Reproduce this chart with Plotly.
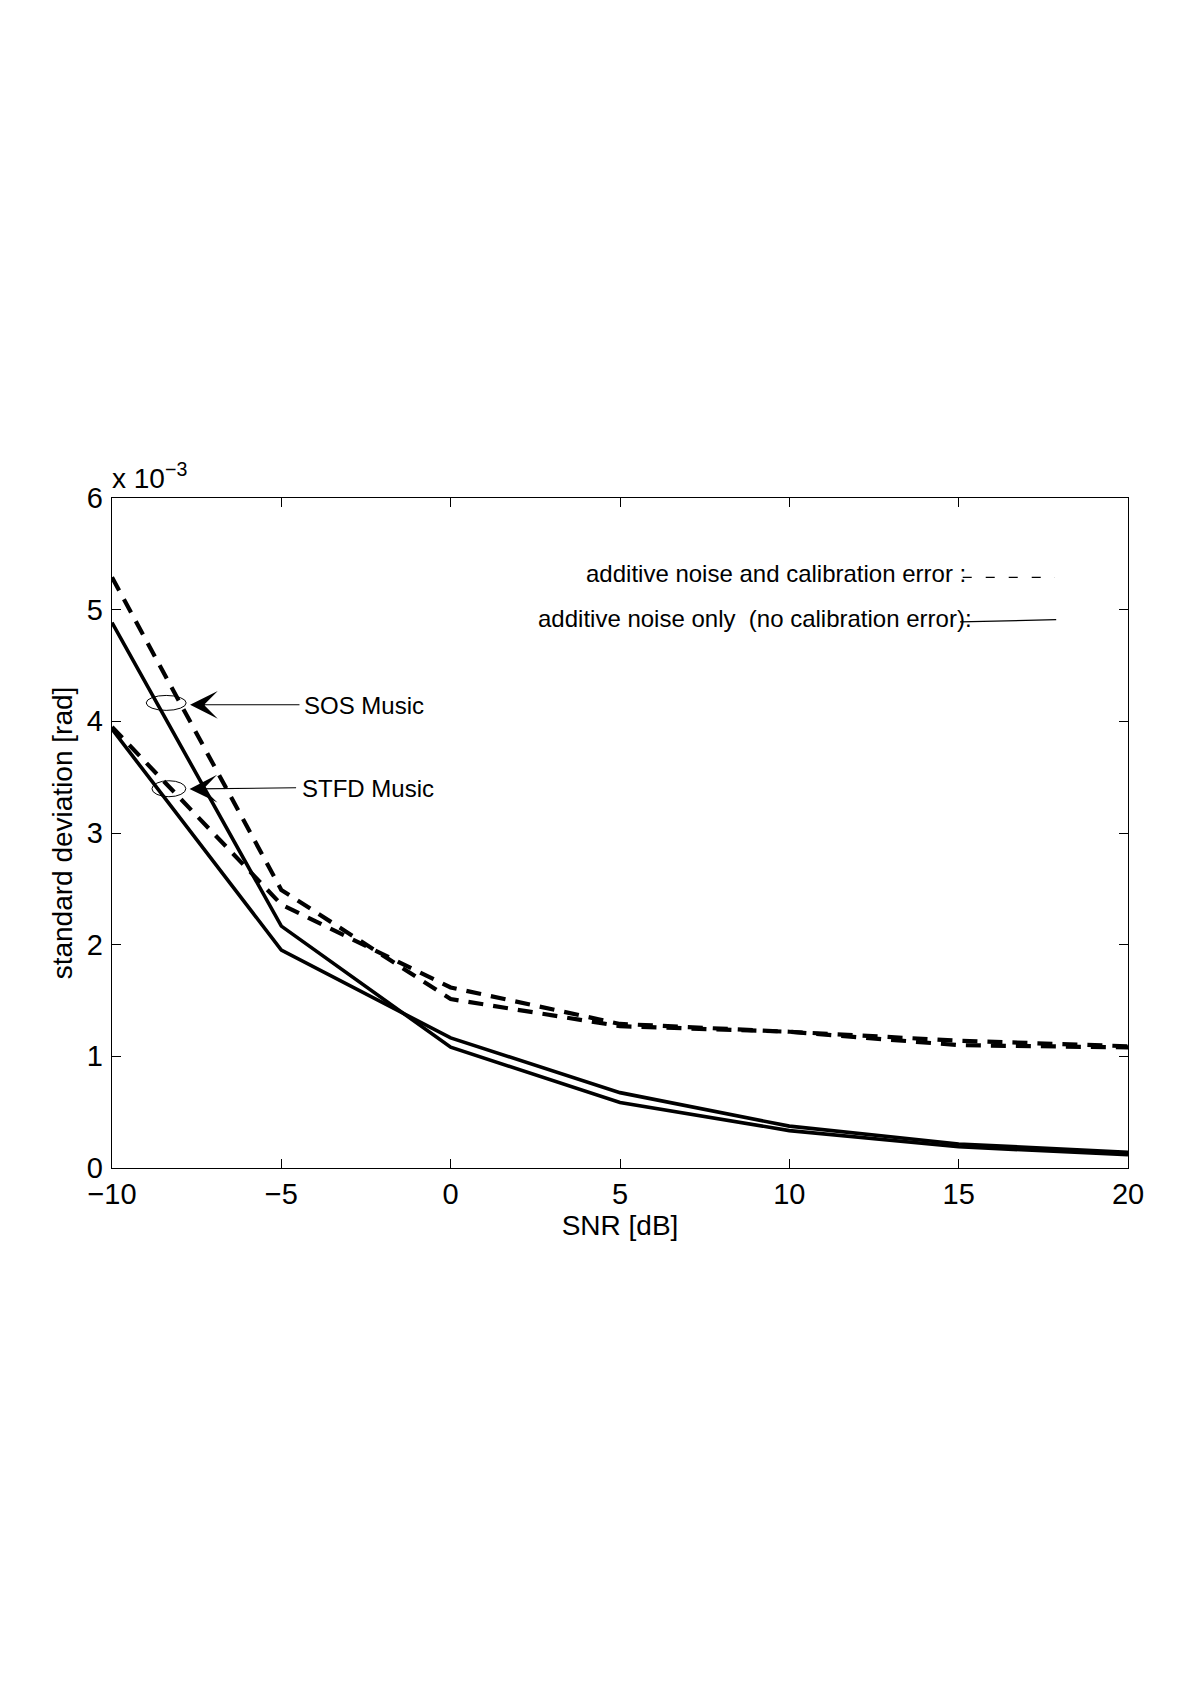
import plotly.graph_objects as go

# ---- data ----
snr_db = [-10, -5, 0, 5, 10, 15, 20]
sos_noise_only = [4.885, 2.166, 1.082, 0.587, 0.335, 0.19, 0.118]
stfd_noise_only = [3.93, 1.952, 1.165, 0.675, 0.375, 0.215, 0.14]
sos_calib_err = [5.29, 2.49, 1.513, 1.27, 1.22, 1.10, 1.08]
stfd_calib_err = [3.95, 2.36, 1.617, 1.29, 1.22, 1.14, 1.09]

x_ticks = [-10, -5, 0, 5, 10, 15, 20]
y_ticks = [0, 1, 2, 3, 4, 5, 6]

FONT = "Liberation Sans, Arial, Helvetica, sans-serif"
BLACK = "black"

fig = go.Figure()

solid = dict(color=BLACK, width=3.6)
dashed = dict(color=BLACK, width=4.2, dash="15px,10px")

fig.add_trace(go.Scatter(x=snr_db, y=sos_noise_only, mode="lines", line=solid,
                         name="SOS Music, additive noise only", showlegend=False))
fig.add_trace(go.Scatter(x=snr_db, y=stfd_noise_only, mode="lines", line=solid,
                         name="STFD Music, additive noise only", showlegend=False))
fig.add_trace(go.Scatter(x=snr_db, y=sos_calib_err, mode="lines", line=dashed,
                         name="SOS Music, noise and calibration error", showlegend=False))
fig.add_trace(go.Scatter(x=snr_db, y=stfd_calib_err, mode="lines", line=dashed,
                         name="STFD Music, noise and calibration error", showlegend=False))

# ellipses marking the curve groups
fig.add_shape(type="circle", xref="x", yref="y", x0=-8.99, x1=-7.81, y0=4.098, y1=4.232,
              line=dict(color=BLACK, width=1))
fig.add_shape(type="circle", xref="x", yref="y", x0=-8.82, x1=-7.82, y0=3.325, y1=3.468,
              line=dict(color=BLACK, width=1))

# legend samples
fig.add_shape(type="line", xref="x", yref="y", x0=15.12, x1=17.84, y0=5.29, y1=5.29,
              line=dict(color=BLACK, width=1.2, dash="9px,14px"))
fig.add_shape(type="line", xref="x", yref="y", x0=15.04, x1=17.88, y0=4.89, y1=4.91,
              line=dict(color=BLACK, width=1.2))

ann = []
# arrows
ann.append(dict(x=-7.695, y=4.148, ax=-4.42, ay=4.148, xref="x", yref="y", axref="x", ayref="y",
                text="", showarrow=True, arrowhead=3, arrowsize=4.2, arrowwidth=1.1, arrowcolor=BLACK))
ann.append(dict(x=-7.71, y=3.394, ax=-4.52, ay=3.406, xref="x", yref="y", axref="x", ayref="y",
                text="", showarrow=True, arrowhead=3, arrowsize=4.2, arrowwidth=1.1, arrowcolor=BLACK))
ann.append(dict(x=-4.40, y=4.145, xref="x", yref="y", text="SOS Music", showarrow=False,
                xanchor="left", yanchor="middle", font=dict(family=FONT, size=24, color=BLACK)))
ann.append(dict(x=-4.46, y=3.397, xref="x", yref="y", text="STFD Music", showarrow=False,
                xanchor="left", yanchor="middle", font=dict(family=FONT, size=24, color=BLACK)))
# legend texts
ann.append(dict(x=3.94, y=5.322, xref="x", yref="y", text="additive noise and calibration error :",
                showarrow=False, xanchor="left", yanchor="middle",
                font=dict(family=FONT, size=24, color=BLACK)))
ann.append(dict(x=2.53, y=4.921, xref="x", yref="y", text="additive noise only  (no calibration error):",
                showarrow=False, xanchor="left", yanchor="middle",
                font=dict(family=FONT, size=24, color=BLACK)))
# exponent label
ann.append(dict(x=0, y=1, xref="paper", yref="paper", text="x 10<sup>\u22123</sup>",
                showarrow=False, xanchor="left", yanchor="bottom", yshift=2, xshift=-2,
                font=dict(family=FONT, size=28, color=BLACK)))

fig.update_layout(
    width=1200, height=1698,
    margin=dict(l=104, r=80, t=490, b=538),
    paper_bgcolor="white", plot_bgcolor="white",
    font=dict(family=FONT, size=29, color=BLACK),
    annotations=ann,
    showlegend=False,
)

fig.update_xaxes(
    range=[-10, 20], tickvals=x_ticks, ticktext=[str(v).replace("-", "\u2212") for v in x_ticks],
    ticks="inside", ticklen=9, tickwidth=1, tickcolor=BLACK, mirror="ticks",
    showline=True, linewidth=1.4, linecolor=BLACK, showgrid=False, zeroline=False,
    tickfont=dict(family=FONT, size=29, color=BLACK), ticklabelstandoff=0,
    title=dict(text="SNR [dB]", font=dict(family=FONT, size=28, color=BLACK), standoff=0),
)
fig.update_yaxes(
    range=[0, 6], tickvals=y_ticks, ticktext=[str(v) for v in y_ticks],
    ticks="inside", ticklen=9, tickwidth=1, tickcolor=BLACK, mirror="ticks",
    showline=True, linewidth=1.4, linecolor=BLACK, showgrid=False, zeroline=False,
    tickfont=dict(family=FONT, size=29, color=BLACK), ticklabelstandoff=2,
    title=dict(text="standard deviation [rad]", font=dict(family=FONT, size=28, color=BLACK), standoff=6),
)

fig.write_html("out.html")
